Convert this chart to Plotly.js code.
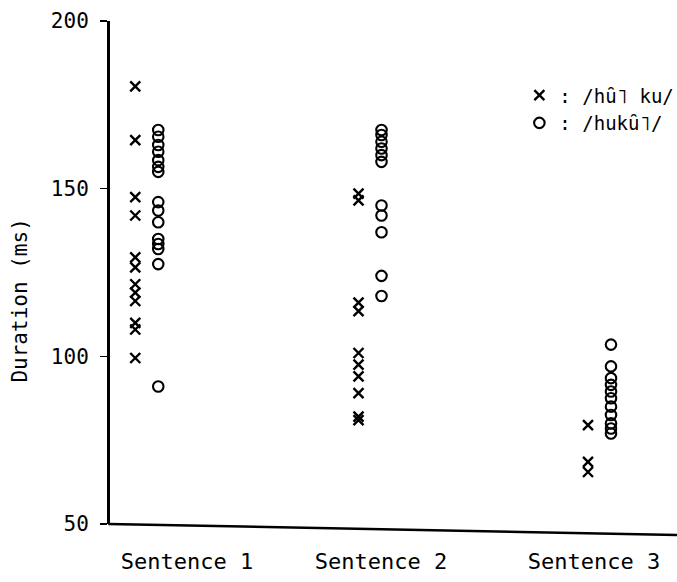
<!DOCTYPE html>
<html>
<head>
<meta charset="utf-8">
<script src="https://cdn.plot.ly/plotly-3.0.1.min.js"></script>
<style>html,body{margin:0;padding:0;background:#fff;}#chart{width:677px;height:582px;}</style>
</head>
<body>
<div id="chart"></div>
<script>
// ---- data ----
const categories = ["Sentence 1", "Sentence 2", "Sentence 3"];
const seriesNames = [": /hȗ˥ ku/", ": /hukȗ˥/"];
const hukuS1 = [180.5, 164.5, 147.5, 142, 129.5, 126.5, 121.5, 119, 116.5, 110, 108, 99.5];
const hukuS2 = [148.5, 146.5, 116, 113.5, 101, 97.5, 94, 89, 82, 81];
const hukuS3 = [79.5, 68.5, 65.5];
const hukuuS1 = [167.5, 165.5, 163, 161, 158.5, 156.5, 155, 146, 143.5, 140, 135, 133.5, 132, 127.5, 91];
const hukuuS2 = [167.5, 166, 164, 162, 160, 158, 145, 142, 137, 124, 118];
const hukuuS3 = [103.5, 97, 93.5, 91.5, 89.5, 87.5, 85, 82.5, 80, 78.5, 77];
const yTicks = [50, 100, 150, 200];

// ---- layout positions (not data) ----
const groupPos = [0.3675, 2.60, 4.895];
const labelPos = [0.77, 2.71, 4.84];
const offset = 0.115;

function build(groups, side) {
  const xs = [], ys = [];
  groups.forEach((vals, i) => {
    vals.forEach(v => { xs.push(groupPos[i] + side * offset); ys.push(v); });
  });
  return {xs, ys};
}
const a = build([hukuS1, hukuS2, hukuS3], -1);
const b = build([hukuuS1, hukuuS2, hukuuS3], 1);

const font = "DejaVu Sans Mono, monospace";
const traces = [
  {x: a.xs, y: a.ys, type: "scatter", mode: "markers", name: seriesNames[0], cliponaxis: false,
   marker: {symbol: "x-thin-open", size: 10, color: "#000", line: {width: 2.4, color: "#000"}}},
  {x: b.xs, y: b.ys, type: "scatter", mode: "markers", name: seriesNames[1], cliponaxis: false,
   marker: {symbol: "circle-open", size: 10.5, color: "#000", line: {width: 2.1, color: "#000"}}}
];

const layout = {
  width: 677, height: 582,
  margin: {l: 110, r: 0, t: 21, b: 58, autoexpand: false},
  paper_bgcolor: "#fff", plot_bgcolor: "#fff",
  font: {family: font, color: "#000", size: 19},
  showlegend: true,
  legend: {x: 0.722, y: 0.89, xanchor: "left", yanchor: "top", bgcolor: "rgba(0,0,0,0)",
           font: {family: font, size: 19, color: "#000"}, itemwidth: 30, tracegroupgap: 0},
  xaxis: {range: [0, 5.67], showgrid: false, zeroline: false, showline: false,
          tickmode: "array", tickvals: labelPos, ticktext: categories, ticks: "",
          tickfont: {family: font, size: 22, color: "#000"}, ticklabelstandoff: 22, fixedrange: true},
  yaxis: {range: [50, 200], showgrid: false, zeroline: false, showline: true, linewidth: 3, linecolor: "#000",
          tickmode: "array", tickvals: yTicks, ticks: "outside", ticklen: 7, tickwidth: 1.5, tickcolor: "#000",
          tickfont: {family: font, size: 21, color: "#000"}, ticklabelstandoff: 7, fixedrange: true},
  shapes: [
    {type: "line", xref: "paper", yref: "paper", x0: -0.003, y0: 0, x1: 1, y1: -0.022,
     line: {color: "#000", width: 2.5}}
  ],
  annotations: [
    {text: "Duration (ms)", xref: "paper", yref: "paper", x: -0.158, y: 0.445, xanchor: "center", yanchor: "middle",
     textangle: -90, showarrow: false, font: {family: font, size: 21, color: "#000"}}
  ]
};

Plotly.newPlot("chart", traces, layout, {staticPlot: true, displayModeBar: false});
</script>
</body>
</html>
